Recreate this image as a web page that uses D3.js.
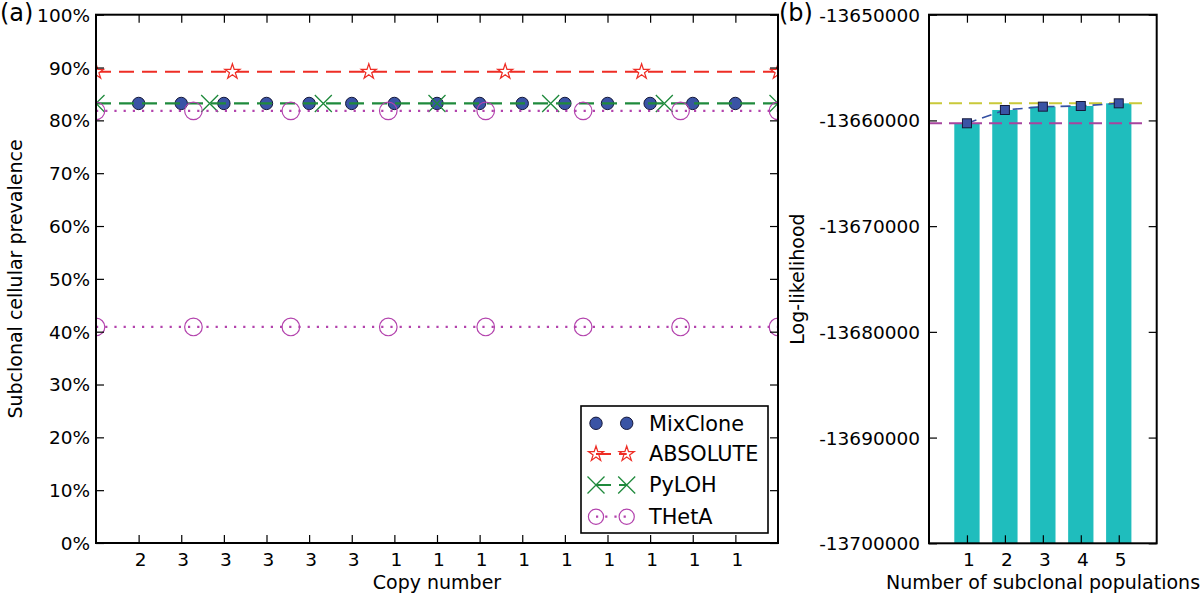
<!DOCTYPE html>
<html>
<head>
<meta charset="utf-8">
<script src="https://cdn.jsdelivr.net/npm/d3@7"></script>
<style>
  html, body { margin: 0; padding: 0; background: #fff; }
  svg text { font-family: "DejaVu Sans", sans-serif; fill: #000; }
</style>
</head>
<body>
<svg id="chart" width="1200" height="596"></svg>
<script>
// ---------------- data: panel (a) ----------------
const copyNumberLabels = ["2","3","3","3","3","3","1","1","1","1","1","1","1","1","1"];
const copyNumberPositions = [1,2,3,4,5,6,7,8,9,10,11,12,13,14,15];
const mixcloneValues = [83.2,83.2,83.2,83.2,83.2,83.2,83.2,83.2,83.2,83.2,83.2,83.2,83.2,83.2,83.2];
const absoluteX = [0, 3.2, 6.4, 9.6, 12.8, 16];
const absoluteValues = [89.2, 89.2, 89.2, 89.2, 89.2, 89.2];
const pylohX = [0, 2.667, 5.333, 8, 10.667, 13.333, 16];
const pylohValues = [83.2, 83.2, 83.2, 83.2, 83.2, 83.2, 83.2];
const thetaX = [0, 2.286, 4.571, 6.857, 9.143, 11.429, 13.714, 16];
const thetaValuesHigh = [81.8, 81.8, 81.8, 81.8, 81.8, 81.8, 81.8, 81.8];
const thetaValuesLow = [40.9, 40.9, 40.9, 40.9, 40.9, 40.9, 40.9, 40.9];
const yTicksA = [0,10,20,30,40,50,60,70,80,90,100];
const legendNames = ["MixClone","ABSOLUTE","PyLOH","THetA"];

// ---------------- data: panel (b) ----------------
const populations = [1,2,3,4,5];
const logLikelihood = [-13660272, -13659013, -13658698, -13658635, -13658383];
const maxLine = -13658383;
const minLine = -13660272;
const yTicksB = [-13700000,-13690000,-13680000,-13670000,-13660000,-13650000];

// ---------------- colours ----------------
const cBlue = "#3a54a5", cBlueEdge = "#15183a";
const cRed = "#ee2d25", cGreen = "#1f8a3c", cPurple = "#b343ad";
const cTeal = "#1fbdbd", cYellow = "#c9c93a", cMag = "#a8449e", cLine = "#3450a2";

const svg = d3.select("#chart");

function starPath(R) {
  const r = R * 0.381;
  const pts = [];
  for (let i = 0; i < 10; i++) {
    const a = -Math.PI / 2 + i * Math.PI / 5;
    const rr = i % 2 === 0 ? R : r;
    pts.push([rr * Math.cos(a), rr * Math.sin(a)]);
  }
  return "M" + pts.map(p => p.join(",")).join("L") + "Z";
}
const xPath = h => `M${-h},${-h}L${h},${h}M${-h},${h}L${h},${-h}`;

// ================= Panel (a) =================
const xA = d3.scaleLinear().domain([0,16]).range([96,778]);
const yA = d3.scaleLinear().domain([0,100]).range([543,14.7]);

svg.append("clipPath").attr("id","clipA").append("rect")
  .attr("x",96).attr("y",14.7).attr("width",682).attr("height",528.3);

const gA = svg.append("g");
const plotA = gA.append("g").attr("clip-path","url(#clipA)");

// MixClone circles
plotA.selectAll("circle.mix").data(copyNumberPositions).join("circle")
  .attr("cx", (d) => xA(d)).attr("cy", (d,i) => yA(mixcloneValues[i]))
  .attr("r", 6.2).attr("fill", cBlue).attr("stroke", cBlueEdge).attr("stroke-width", 1);

const lineA = (xs, ys) => d3.line().x((d,i)=>xA(xs[i])).y((d,i)=>yA(ys[i]))(xs);

// ABSOLUTE
plotA.append("path").attr("d", lineA(absoluteX, absoluteValues))
  .attr("fill","none").attr("stroke",cRed).attr("stroke-width",2.2).attr("stroke-dasharray","15,8");
plotA.selectAll("path.abs").data(absoluteX).join("path")
  .attr("d", starPath(8)).attr("transform",(d,i)=>`translate(${xA(d)},${yA(absoluteValues[i])})`)
  .attr("fill","#fff").attr("stroke",cRed).attr("stroke-width",1.2);

// PyLOH
plotA.append("path").attr("d", lineA(pylohX, pylohValues))
  .attr("fill","none").attr("stroke",cGreen).attr("stroke-width",2.2).attr("stroke-dasharray","15,8");
plotA.selectAll("path.pyl").data(pylohX).join("path")
  .attr("d", xPath(8.5)).attr("transform",(d,i)=>`translate(${xA(d)},${yA(pylohValues[i])})`)
  .attr("fill","none").attr("stroke",cGreen).attr("stroke-width",1.3);

// THetA
[thetaValuesHigh, thetaValuesLow].forEach(vals => {
  plotA.append("path").attr("d", lineA(thetaX, vals))
    .attr("fill","none").attr("stroke",cPurple).attr("stroke-width",2.2).attr("stroke-dasharray","2.2,7");
  plotA.append("g").selectAll("circle").data(thetaX).join("circle")
    .attr("cx", d=>xA(d)).attr("cy",(d,i)=>yA(vals[i])).attr("r",8.8)
    .attr("fill","none").attr("stroke",cPurple).attr("stroke-width",1.2);
});

// Axes (a)
function styleAxis(g) {
  g.select(".domain").remove();
  g.selectAll(".tick line").attr("stroke","#000").attr("stroke-width",1.2);
  g.selectAll(".tick text").attr("font-family","DejaVu Sans").attr("font-size",18.5).attr("fill","#000");
}
const axBottomA = gA.append("g").attr("transform","translate(0,543)")
  .call(d3.axisBottom(xA).tickValues(copyNumberPositions).tickSize(-8).tickPadding(0)
    .tickFormat((d,i)=>copyNumberLabels[i]));
styleAxis(axBottomA);
axBottomA.selectAll(".tick text").attr("y",23).attr("dy",0).attr("dx",1.5);
const axTopA = gA.append("g").attr("transform","translate(0,14.7)")
  .call(d3.axisTop(xA).tickValues(copyNumberPositions).tickSize(-8).tickFormat(""));
styleAxis(axTopA);
const axLeftA = gA.append("g").attr("transform","translate(96,0)")
  .call(d3.axisLeft(yA).tickValues(yTicksA).tickSize(-8).tickPadding(0).tickFormat(d=>d+"%"));
styleAxis(axLeftA);
axLeftA.selectAll(".tick text").attr("x",-6).attr("dy","0.35em");
const axRightA = gA.append("g").attr("transform","translate(778,0)")
  .call(d3.axisRight(yA).tickValues(yTicksA).tickSize(-8).tickFormat(""));
styleAxis(axRightA);

gA.append("rect").attr("x",96).attr("y",14.7).attr("width",682).attr("height",528.3)
  .attr("fill","none").attr("stroke","#000").attr("stroke-width",2);

gA.append("text").attr("x",437).attr("y",589).attr("text-anchor","middle")
  .attr("font-size",19).text("Copy number");
gA.append("text").attr("transform","translate(22,279) rotate(-90)").attr("text-anchor","middle")
  .attr("font-size",19).text("Subclonal cellular prevalence");
svg.append("text").attr("x",0).attr("y",21).attr("font-size",24).text("(a)");

// Legend
const lg = gA.append("g");
lg.append("rect").attr("x",581).attr("y",406).attr("width",187).attr("height",127)
  .attr("fill","#fff").attr("stroke","#000").attr("stroke-width",1.6);
const legY = [423.3, 454, 485, 516.7];
const m1 = 596, m2 = 626.7;
legendNames.forEach((name, i) => {
  const y = legY[i];
  const row = lg.append("g");
  if (i === 0) {
    [m1,m2].forEach(x => row.append("circle").attr("cx",x).attr("cy",y).attr("r",6.2)
      .attr("fill",cBlue).attr("stroke",cBlueEdge).attr("stroke-width",1));
  } else if (i === 1) {
    row.append("line").attr("x1",m1).attr("x2",m2).attr("y1",y).attr("y2",y)
      .attr("stroke",cRed).attr("stroke-width",2.2).attr("stroke-dasharray","15,8");
    [m1,m2].forEach(x => row.append("path").attr("d",starPath(8)).attr("transform",`translate(${x},${y})`)
      .attr("fill","#fff").attr("fill-opacity",0).attr("stroke",cRed).attr("stroke-width",1.2));
  } else if (i === 2) {
    row.append("line").attr("x1",m1).attr("x2",m2).attr("y1",y).attr("y2",y)
      .attr("stroke",cGreen).attr("stroke-width",2.2).attr("stroke-dasharray","15,8");
    [m1,m2].forEach(x => row.append("path").attr("d",xPath(8.5)).attr("transform",`translate(${x},${y})`)
      .attr("fill","none").attr("stroke",cGreen).attr("stroke-width",1.3));
  } else {
    row.append("line").attr("x1",m1).attr("x2",m2).attr("y1",y).attr("y2",y)
      .attr("stroke",cPurple).attr("stroke-width",2.2).attr("stroke-dasharray","2.2,7");
    [m1,m2].forEach(x => row.append("circle").attr("cx",x).attr("cy",y).attr("r",7.6)
      .attr("fill","none").attr("stroke",cPurple).attr("stroke-width",1.2));
  }
  row.append("text").attr("x",649).attr("y",y).attr("dy","0.36em").attr("font-size",20.8).text(name);
});

// ================= Panel (b) =================
const xB = d3.scaleLinear().domain([0,6]).range([929,1156.7]);
const yB = d3.scaleLinear().domain([-13700000,-13650000]).range([543.3,14.7]);
const gB = svg.append("g");
const barW = 0.667;
gB.selectAll("rect.bar").data(populations).join("rect")
  .attr("x", d => xB(d - barW/2)).attr("width", xB(barW) - xB(0))
  .attr("y", (d,i) => yB(logLikelihood[i])).attr("height", (d,i) => yB(-13700000) - yB(logLikelihood[i]))
  .attr("fill", cTeal);

gB.append("line").attr("x1",xB(0)).attr("x2",xB(5.7)).attr("y1",yB(maxLine)).attr("y2",yB(maxLine))
  .attr("stroke",cYellow).attr("stroke-width",2).attr("stroke-dasharray","13,7");
gB.append("line").attr("x1",xB(0)).attr("x2",xB(5.7)).attr("y1",yB(minLine)).attr("y2",yB(minLine))
  .attr("stroke",cMag).attr("stroke-width",2).attr("stroke-dasharray","13,7");

gB.append("path").attr("d", d3.line().x(d=>xB(d)).y((d,i)=>yB(logLikelihood[i]))(populations))
  .attr("fill","none").attr("stroke",cLine).attr("stroke-width",1.6).attr("stroke-dasharray","10,6");
gB.selectAll("rect.sq").data(populations).join("rect")
  .attr("x", d => xB(d) - 4.5).attr("y", (d,i) => yB(logLikelihood[i]) - 4.5)
  .attr("width", 9).attr("height", 9).attr("fill", cBlue).attr("stroke", cBlueEdge).attr("stroke-width",1);

const axBottomB = gB.append("g").attr("transform","translate(0,543.3)")
  .call(d3.axisBottom(xB).tickValues(populations).tickSize(-8).tickFormat(d=>String(d)));
styleAxis(axBottomB);
axBottomB.selectAll(".tick text").attr("y",23).attr("dy",0).attr("dx",1.5);
const axTopB = gB.append("g").attr("transform","translate(0,14.7)")
  .call(d3.axisTop(xB).tickValues(populations).tickSize(-8).tickFormat(""));
styleAxis(axTopB);
const axLeftB = gB.append("g").attr("transform","translate(929,0)")
  .call(d3.axisLeft(yB).tickValues(yTicksB).tickSize(-8).tickFormat(d=>String(d)));
styleAxis(axLeftB);
axLeftB.selectAll(".tick text").attr("x",-9).attr("dy","0.35em");
const axRightB = gB.append("g").attr("transform","translate(1156.7,0)")
  .call(d3.axisRight(yB).tickValues(yTicksB).tickSize(-8).tickFormat(""));
styleAxis(axRightB);

gB.append("rect").attr("x",929).attr("y",14.7).attr("width",227.7).attr("height",528.6)
  .attr("fill","none").attr("stroke","#000").attr("stroke-width",2);

gB.append("text").attr("x",1043).attr("y",589).attr("text-anchor","middle")
  .attr("font-size",19).text("Number of subclonal populations");
gB.append("text").attr("transform","translate(804,279) rotate(-90)").attr("text-anchor","middle")
  .attr("font-size",19).text("Log-likelihood");
svg.append("text").attr("x",779).attr("y",21).attr("font-size",24).text("(b)");
</script>
</body>
</html>
